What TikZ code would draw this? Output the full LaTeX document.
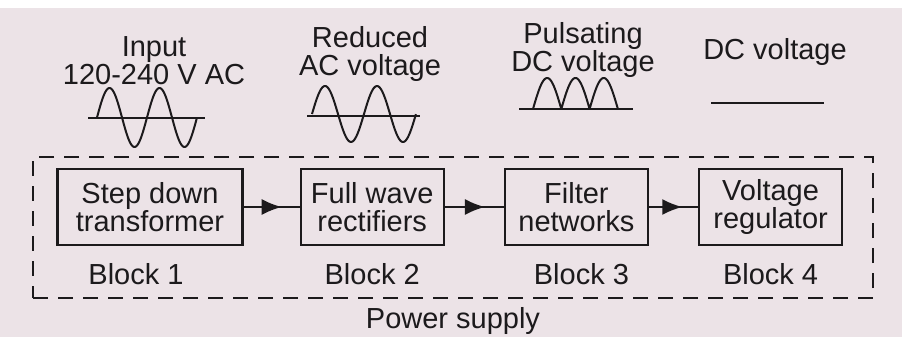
\documentclass[tikz,border=0pt]{standalone}
\usepackage{fontspec}
\setmainfont{Liberation Sans}
\usetikzlibrary{arrows.meta,positioning,decorations.markings}

\definecolor{paper}{RGB}{236,227,231}
\definecolor{ink}{RGB}{28,26,28}

\tikzset{
  blk/.style={draw=ink, line width=2.2pt, minimum height=76pt, minimum width=143pt, align=center, inner sep=2pt},
  lbl/.style={align=center, inner sep=0pt},
  wave/.style={draw=ink, line width=2pt, line join=round},
  flow/.style={draw=ink, line width=2pt, postaction={decorate},
    decoration={markings, mark=at position 0.68 with {\arrow{Latex[length=20pt,width=16pt]}}}},
  frame/.style={draw=ink, line width=1.8pt, dash pattern=on 15pt off 10pt, inner sep=0pt}
}

\begin{document}
\begin{tikzpicture}[x=1pt, y=-1pt, every node/.style={text=ink, font=\fontsize{29}{28}\selectfont}]
\path[use as bounding box] (0,0) rectangle (902,337);
\fill[paper] (0,8) rectangle (902,337);

% signal labels
\node[lbl] (in) at (154,61) {Input\\120-240 V AC};
\node[lbl] (red) at (370,54) {Reduced\\AC voltage};
\node[lbl] (pul) at (583,50) {Pulsating\\DC voltage};
\node[lbl] (dc) at (775,52) {DC voltage};

% waveforms
\draw[wave] (88,118) -- (205,118);
\draw[wave] plot[domain=0:2, samples=90, smooth] ({97+50*\x},{117.5-29.5*sin(360*\x)});
\draw[wave] (307,116) -- (420,116);
\draw[wave] plot[domain=0:2, samples=90, smooth] ({312+52*\x},{114-28*sin(360*\x)});
\draw[wave] (519,109) -- (633,109);
\draw[wave] plot[domain=0:3, samples=120] ({533+28.3*\x},{109-31*abs(sin(180*\x))});
\draw[wave] (711,103) -- (824,103);

% blocks
\node[blk, minimum width=185pt] (b1) at (150,207) {Step down\\transformer};
\node[blk, right=56pt of b1] (b2) {Full wave\\rectifiers};
\node[blk, right=59pt of b2] (b3) {Filter\\networks};
\node[blk, right=49pt of b3] (b4) {Voltage\\regulator};
\draw[flow] (b1) -- (b2);
\draw[flow] (b2) -- (b3);
\draw[flow] (b3) -- (b4);

\node[lbl, below=17pt of b1, xshift=-14pt] (n1) {Block 1};
\node[lbl, below=17pt of b2] (n2) {Block 2};
\node[lbl, below=17pt of b3, xshift=5pt] (n3) {Block 3};
\node[lbl, below=17pt of b4] (n4) {Block 4};

% power supply frame
\node[frame, minimum width=840pt, minimum height=141pt] (ps) at (453,227.5) {};
\node[lbl, below=8pt of ps] (pslbl) {Power supply};
\end{tikzpicture}
\end{document}
